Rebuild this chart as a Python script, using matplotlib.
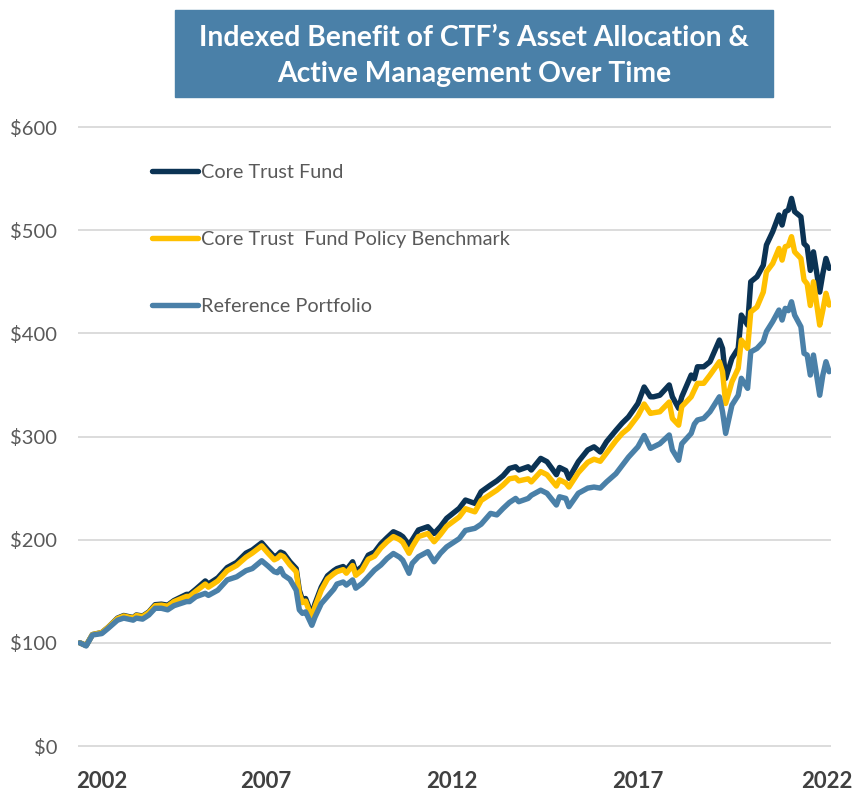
import matplotlib.pyplot as plt
from matplotlib.patches import Rectangle

# months since Jan 2003 (monthly index)
months = [0, 2, 4, 7, 9, 12, 14, 17, 18, 20, 22, 24, 26, 28, 30, 34, 35, 37, 40, 41,
          44, 47, 50, 53, 55, 58, 60, 62, 63, 64, 65, 67, 69, 70, 71, 72, 74, 75, 77, 79,
          81, 82, 84, 85, 87, 88, 90, 92, 94, 96, 98, 100, 102, 103, 105, 106, 108, 111, 113, 115,
          117, 121, 123, 126, 128, 131, 133, 135, 137, 139, 140, 143, 144, 147, 149, 152, 153, 155, 156, 159,
          162, 164, 166, 168, 171, 173, 175, 178, 180, 182, 183, 185, 188, 189, 191, 192, 195, 196, 197, 199,
          201, 204, 205, 206, 208, 210, 211, 213, 214, 216, 218, 219, 221, 223, 224, 225, 226, 227, 228, 230,
          231, 232, 233, 234, 236, 237, 238, 239]

core_trust = [100, 97.5, 108, 110, 115, 124, 126.5, 124.5, 127, 126, 130, 137, 137.5, 136.5, 141, 147, 147, 152, 160, 157,
              163, 173, 178, 187, 190, 197, 190, 183.5, 185, 188, 186.7, 178.6, 172, 151, 141.5, 143, 127, 138, 154, 165,
              170, 172, 174, 170.6, 178.6, 169, 174, 185, 188, 196, 202, 207.7, 205, 202.9, 194.8, 199.6, 209.4, 212.6, 206, 212.6,
              220.7, 230.4, 238.4, 235.2, 246.5, 253, 257, 262, 269, 270.7, 267.5, 270.7, 267.5, 278.8, 275.6, 263, 270, 267, 259.5, 275.6,
              287, 290, 285, 295, 306, 313, 319, 332, 348, 338.5, 338.5, 340, 350, 338.5, 327.3, 338.5, 359.6, 356, 367.6, 367.6,
              372.5, 393.5, 385.4, 356.4, 375.8, 385.4, 417.7, 408, 450, 454.9, 466, 485.6, 498.5, 514.7, 505, 517.9, 519.5, 530.8, 518, 513,
              487, 484, 461, 479, 440, 458, 472.6, 463]

policy_benchmark = [100, 97.5, 108, 110, 115, 123.5, 126, 124, 126.5, 125.5, 129.5, 136, 136.5, 135.5, 140, 145, 145, 150, 157, 154,
                    160, 170, 175, 183, 187, 194, 187, 180.5, 182, 185, 183.5, 175.5, 169, 148, 139, 140.5, 124, 135, 151, 162,
                    167, 169, 171, 167.5, 175, 165.5, 170.5, 181, 184, 192, 198, 203, 200, 197.5, 186.8, 193, 203, 206, 198, 205,
                    213, 222, 230, 227, 238, 244, 248, 253, 259, 260, 257, 259, 256, 266, 263, 252, 258, 255, 251, 265,
                    275, 278, 276, 284, 296, 303, 308, 320, 331.5, 322.4, 323, 324, 333.4, 317.5, 311, 329, 338.5, 345, 351.5, 351.6,
                    359.6, 372.5, 362.8, 332, 353, 366, 393.5, 385.4, 420.7, 425.6, 440, 459.6, 467.7, 482.3, 471, 484, 485, 493.7, 479, 472.6,
                    451.7, 448, 427, 450, 408, 422.6, 438.8, 427.4]

reference = [100, 97, 107.6, 109, 114, 122, 124, 122, 124, 123, 127, 133.5, 133.5, 132, 136, 140, 140, 144.7, 148, 146,
             151, 161, 164, 170, 172, 179.6, 174.5, 169, 168, 172, 165.7, 161.5, 151, 132, 128.6, 130, 117, 125, 138, 145,
             152, 157, 159, 156, 161, 153, 157.5, 164, 170.6, 175.4, 181.8, 186.6, 183, 180, 167.4, 177, 183.5, 188.4, 178.6, 186.8,
             193, 201, 209, 211, 215, 225.5, 224, 230.3, 236, 240, 236.8, 240, 243, 248, 245, 233.6, 241.6, 240, 232, 245,
             250, 251, 250, 256, 264, 272, 280, 290, 301, 288.5, 290, 293, 301.5, 287, 277, 293, 303, 312, 316, 317.6,
             324, 338.5, 324, 303, 330.5, 340, 356.4, 346.7, 382, 385.4, 392, 401.7, 411.4, 422.6, 412.9, 424.2, 422, 430.6, 417.7, 406.4,
             380.6, 379, 359.6, 379, 340, 359.6, 372.5, 362.8]

year_labels = ['2002', '2007', '2012', '2017', '2022']
label_months = [7, 59.4, 118.7, 178.1, 238.4]
y_ticks = [0, 100, 200, 300, 400, 500, 600]

navy = '#0B3354'
gold = '#FFC000'
steel = '#4A80A8'
gray = '#595959'

plt.rcParams['font.family'] = ['Lato', 'DejaVu Sans']

fig = plt.figure(figsize=(8.55, 7.93), dpi=100)
ax = fig.add_axes([78 / 855, 41 / 793, 753 / 855, 632 / 793])

ax.plot(months, core_trust, color=navy, lw=3.9, label='Core Trust Fund', solid_capstyle='round')
ax.plot(months, policy_benchmark, color=gold, lw=3.9, label='Core Trust  Fund Policy Benchmark', solid_capstyle='round')
ax.plot(months, reference, color=steel, lw=3.9, label='Reference Portfolio', solid_capstyle='round')

ax.set_xlim(-0.6, 239.6)
ax.set_ylim(-5.8, 606.8)
ax.set_yticks(y_ticks)
ax.set_yticklabels([f'${v}' for v in y_ticks], color=gray, fontsize=14.5)
ax.set_xticks(label_months)
ax.set_xticklabels(year_labels, fontsize=16, fontweight='bold', color='#404040')
ax.tick_params(axis='y', length=0, pad=15)
ax.tick_params(axis='x', length=0, pad=14)
ax.grid(axis='y', color='#D9D9D9', lw=1.3)
ax.set_axisbelow(True)
for s in ax.spines.values():
    s.set_visible(False)

leg = ax.legend(loc='upper left', bbox_to_anchor=((152 - 78) / 753, (752 - 164) / 632),
                frameon=False, fontsize=14.3, handlelength=2.3, handletextpad=0.15,
                labelspacing=2.52, borderpad=0, borderaxespad=0)
for t in leg.get_texts():
    t.set_color(gray)

# title box
fig.patches.append(Rectangle((175 / 855, (793 - 97) / 793), 598 / 855, 87 / 793,
                             transform=fig.transFigure, color=steel, zorder=0))
fig.text(474 / 855, (793 - 38) / 793, 'Indexed Benefit of CTF\u2019s Asset Allocation &',
         ha='center', va='center', color='white', fontsize=20.3, fontweight='bold')
fig.text(474 / 855, (793 - 74) / 793, 'Active Management Over Time',
         ha='center', va='center', color='white', fontsize=20.3, fontweight='bold')

fig.savefig('out.png', dpi=100)
